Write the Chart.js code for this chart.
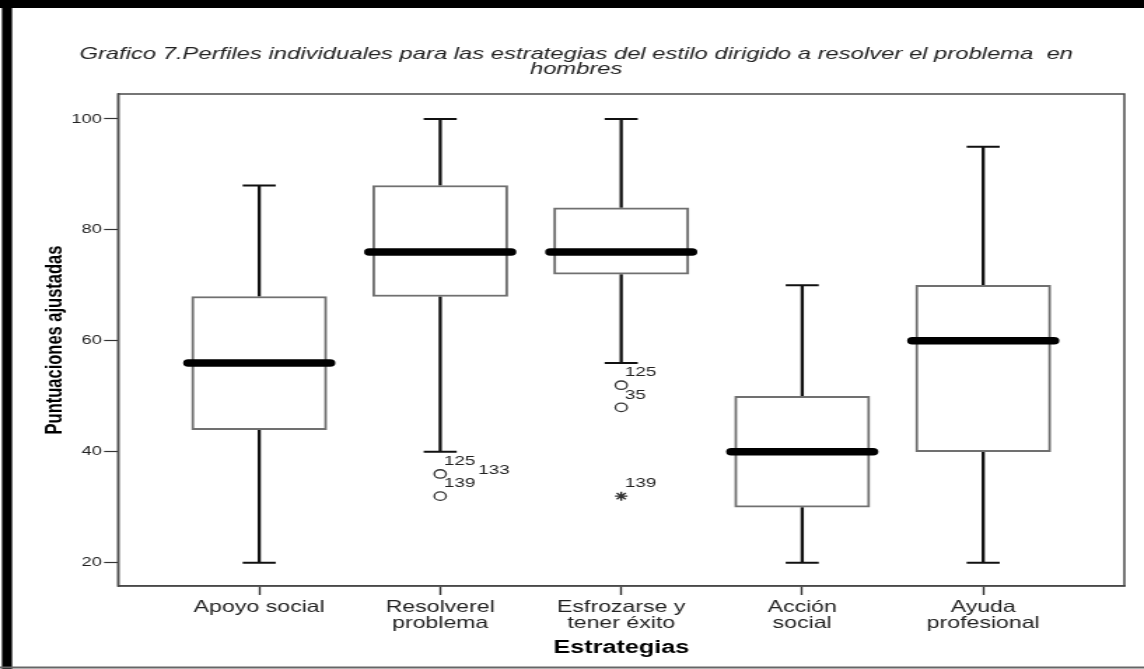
<!DOCTYPE html>
<html>
<head>
<meta charset="utf-8">
<script src="https://cdn.jsdelivr.net/npm/chart.js@4.4.1/dist/chart.umd.min.js"></script>
<style>
  html, body { margin: 0; padding: 0; background: #fff; overflow: hidden; }
  #wrap { width: 1144px; height: 669px; position: relative; }
  /* the original picture is stretched horizontally */
  #chart { transform: scaleX(1.4002); transform-origin: 0 0; display: block; }
</style>
</head>
<body>
<div id="wrap"><canvas id="chart" width="817" height="669"></canvas></div>
<script>
// Box plot data
const categories = [
  ["Apoyo social"],
  ["Resolverel", "problema"],
  ["Esfrozarse y", "tener éxito"],
  ["Acción", "social"],
  ["Ayuda", "profesional"]
];
const whiskerLow = [20, 40, 56, 20, 20];
const q1 = [44, 68, 72, 30, 40];
const median = [56, 76, 76, 40, 60];
const q3 = [68, 88, 84, 50, 70];
const whiskerHigh = [88, 100, 100, 70, 95];

// Outliers (o) and extremes (*)
const outlierCat = [1, 1, 2, 2, 2];
const outlierVal = [36, 32, 52, 48, 32];
const outlierIds = [["125", "133"], ["139"], ["125"], ["35"], ["139"]];
const outlierExtreme = [false, false, false, false, true];

const yTicks = [20, 40, 60, 80, 100];

const FONT = "'Liberation Sans', Arial, sans-serif";
const BOX_W = 96.4;
const CAP_W = 23.6;

// Whiskers, medians and outlier labels
const boxPlotPlugin = {
  id: "boxPlot",
  beforeDatasetsDraw(chart) {
    const { ctx, scales: { x, y } } = chart;
    ctx.save();
    ctx.strokeStyle = "#111";
    categories.forEach((c, i) => {
      const px = x.getPixelForValue(i);
      ctx.lineWidth = 2.3;
      ctx.beginPath();
      ctx.moveTo(px, y.getPixelForValue(q3[i]));
      ctx.lineTo(px, y.getPixelForValue(whiskerHigh[i]));
      ctx.moveTo(px, y.getPixelForValue(q1[i]));
      ctx.lineTo(px, y.getPixelForValue(whiskerLow[i]));
      ctx.stroke();
      ctx.lineWidth = 2;
      ctx.beginPath();
      ctx.moveTo(px - CAP_W / 2, y.getPixelForValue(whiskerHigh[i]));
      ctx.lineTo(px + CAP_W / 2, y.getPixelForValue(whiskerHigh[i]));
      ctx.moveTo(px - CAP_W / 2, y.getPixelForValue(whiskerLow[i]));
      ctx.lineTo(px + CAP_W / 2, y.getPixelForValue(whiskerLow[i]));
      ctx.stroke();
    });
    ctx.restore();
  },
  afterDatasetsDraw(chart) {
    const { ctx, scales: { x, y } } = chart;
    ctx.save();
    // medians
    ctx.strokeStyle = "#000";
    ctx.lineWidth = 7.5;
    ctx.lineCap = "round";
    categories.forEach((c, i) => {
      const px = x.getPixelForValue(i);
      const py = y.getPixelForValue(median[i]);
      ctx.beginPath();
      ctx.moveTo(px - BOX_W / 2 - 2.4, py);
      ctx.lineTo(px + BOX_W / 2 + 2.4, py);
      ctx.stroke();
    });
    // case labels
    ctx.fillStyle = "#222";
    ctx.font = "13.5px " + FONT;
    ctx.textAlign = "left";
    ctx.textBaseline = "middle";
    outlierVal.forEach((v, i) => {
      const px = x.getPixelForValue(outlierCat[i]);
      const py = y.getPixelForValue(v);
      outlierIds[i].forEach((id, k) => {
        if (k === 0) ctx.fillText(id, px + 2.5, py - 12.5);
        else ctx.fillText(id, px + 27, py - 4);
      });
    });
    ctx.restore();
  },
  afterDraw(chart) {
    const { ctx, chartArea: a } = chart;
    ctx.save();
    // plot frame
    ctx.strokeStyle = "#4a4a4a";
    ctx.lineWidth = 1.5;
    ctx.strokeRect(a.left, a.top, a.right - a.left, a.bottom - a.top);
    // picture border
    ctx.fillStyle = "#000";
    ctx.fillRect(0, 0, chart.width, 8);
    ctx.fillRect(1.4, 0, 7.2, chart.height);
    ctx.fillStyle = "#666";
    ctx.fillRect(0, 666.5, chart.width, 2);
    ctx.restore();
  }
};

const ctx = document.getElementById("chart");
new Chart(ctx, {
  type: "bar",
  data: {
    datasets: [
      {
        type: "bar",
        data: categories.map((c, i) => ({ x: i, y: [q1[i], q3[i]] })),
        backgroundColor: "#fff",
        borderColor: "#707070",
        borderWidth: 2,
        borderSkipped: false,
        barThickness: BOX_W
      },
      {
        type: "scatter",
        data: outlierVal
          .map((v, i) => ({ x: outlierCat[i], y: v, e: outlierExtreme[i] }))
          .filter((p) => !p.e),
        pointStyle: "circle",
        radius: 4.2,
        borderWidth: 1.3,
        borderColor: "#333",
        backgroundColor: "rgba(0,0,0,0)"
      },
      {
        type: "scatter",
        data: outlierVal
          .map((v, i) => ({ x: outlierCat[i], y: v, e: outlierExtreme[i] }))
          .filter((p) => p.e),
        pointStyle: "star",
        radius: 4.5,
        borderWidth: 1.4,
        borderColor: "#333",
        backgroundColor: "rgba(0,0,0,0)"
      }
    ]
  },
  options: {
    responsive: false,
    animation: false,
    devicePixelRatio: 1,
    layout: { padding: { left: 20, right: 14, top: 0, bottom: 0 } },
    plugins: {
      legend: { display: false },
      tooltip: { enabled: false },
      title: {
        display: true,
        text: [
          "Grafico 7.Perfiles individuales para las estrategias del estilo dirigido a resolver el problema  en",
          "hombres"
        ],
        color: "#222",
        font: { family: FONT, size: 17, style: "italic", weight: "normal", lineHeight: 15 / 17 },
        padding: { top: 46.5, bottom: 17.5 }
      }
    },
    scales: {
      x: {
        type: "linear",
        min: -0.78,
        max: 4.78,
        offset: false,
        afterBuildTicks: (scale) => {
          scale.ticks = categories.map((c, i) => ({ value: i }));
        },
        afterFit: (scale) => { scale.height = 83; },
        ticks: {
          autoSkip: false,
          maxRotation: 0,
          padding: 4,
          color: "#222",
          font: { family: FONT, size: 16.5, lineHeight: 16 / 16.5 },
          callback: (v) => categories[v]
        },
        grid: { drawOnChartArea: false, drawTicks: true, tickLength: 9, tickWidth: 1.4, tickColor: "#333", offset: false },
        border: { display: true, color: "#4a4a4a", width: 1.5 },
        title: {
          display: true,
          text: "Estrategias",
          color: "#000",
          font: { family: FONT, size: 18, weight: "bold", lineHeight: 1.2 },
          padding: { top: 0, bottom: 10.2 }
        }
      },
      y: {
        type: "linear",
        min: 15.8,
        max: 104.5,
        beginAtZero: false,
        afterBuildTicks: (scale) => {
          scale.ticks = yTicks.map((v) => ({ value: v }));
        },
        afterFit: (scale) => { scale.width = 64.3; },
        ticks: {
          padding: 1.5,
          color: "#222",
          font: { family: FONT, size: 13 }
        },
        grid: { drawOnChartArea: false, drawTicks: true, tickLength: 10, tickWidth: 1.2, tickColor: "#333" },
        border: { display: true, color: "#4a4a4a", width: 1.4 },
        title: {
          display: true,
          text: "Puntuaciones ajustadas",
          color: "#000",
          font: { family: FONT, size: 16.5, weight: "bold", lineHeight: 1.2 },
          padding: { top: 9.4, bottom: 0 }
        }
      }
    }
  },
  plugins: [boxPlotPlugin]
});
</script>
</body>
</html>
